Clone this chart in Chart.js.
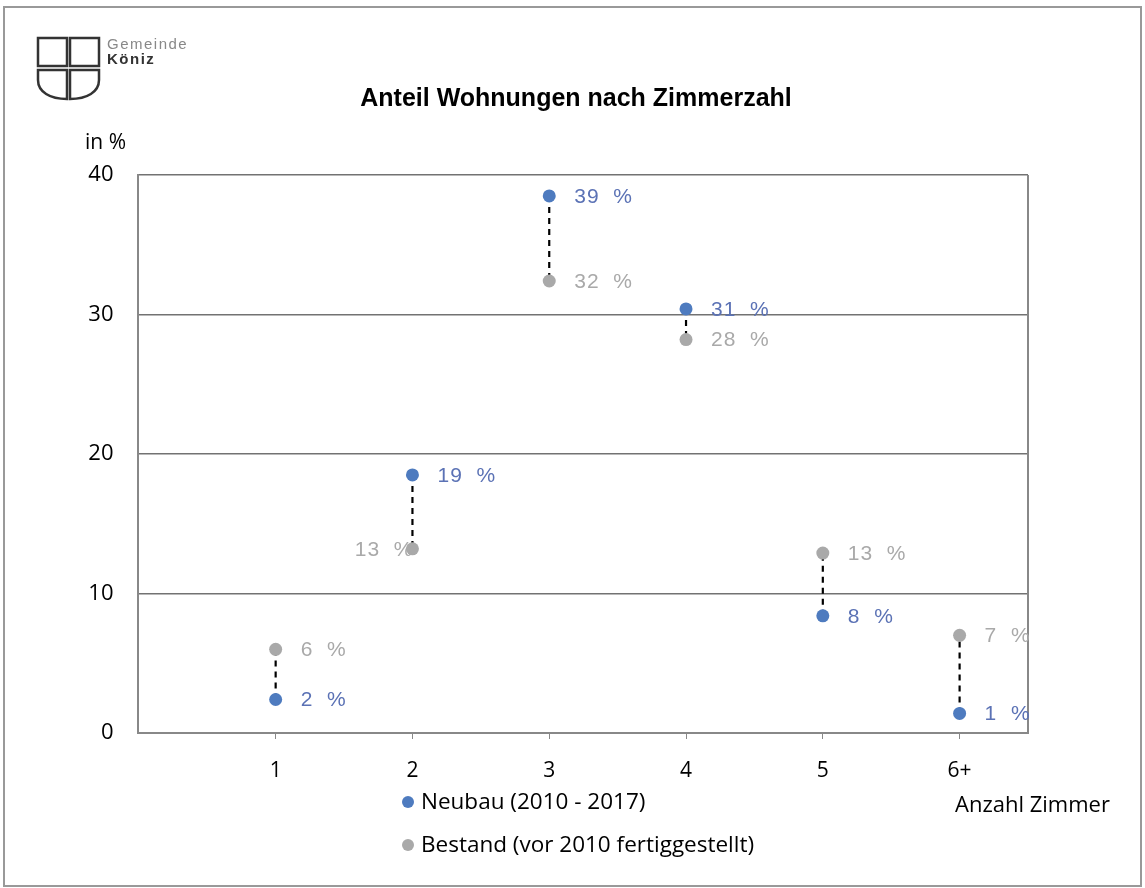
<!DOCTYPE html>
<html>
<head>
<meta charset="utf-8">
<script src="https://cdn.jsdelivr.net/npm/chart.js@4/dist/chart.umd.min.js"></script>
<style>
  html, body { margin: 0; padding: 0; background: #fff; }
  #wrap { width: 1145px; height: 888px; }
</style>
</head>
<body>
<div id="wrap"><canvas id="c" width="1145" height="888"></canvas></div>
<script>
// Daten
const zimmer = [1, 2, 3, 4, 5, 6];
const zimmerLabels = ['1', '2', '3', '4', '5', '6+'];
const yTicks = [0, 10, 20, 30, 40];
const neubau = [2.4, 18.5, 38.5, 30.4, 8.4, 1.4];
const bestand = [6.0, 13.2, 32.4, 28.2, 12.9, 7.0];
const neubauText = ['2  %', '19  %', '39  %', '31  %', '8  %', '1  %'];
const bestandText = ['6  %', '13  %', '32  %', '28  %', '13  %', '7  %'];

const BLAU = '#4e7bbf';
const GRAU = '#a9a9a9';
const FONT = '"Open Sans", sans-serif';
const ARIAL = '"Liberation Sans", Arial, sans-serif';

// gestrichelte Verbindungen Neubau -> Bestand
var verbindungen = zimmer.map(function (z, i) {
  return {
    type: 'line',
    data: [{ x: z, y: neubau[i] }, { x: z, y: bestand[i] }],
    borderColor: '#000',
    borderWidth: 2.2,
    borderDash: [6, 5],
    pointRadius: 0,
    order: 3
  };
});

var deko = {
  id: 'deko',
  beforeDraw: function (chart) {
    var ctx = chart.ctx;
    ctx.save();
    ctx.fillStyle = '#fff';
    ctx.fillRect(0, 0, chart.width, chart.height);
    // Rahmen
    ctx.strokeStyle = '#999';
    ctx.lineWidth = 2;
    ctx.strokeRect(4, 7, 1137, 879);

    // Logo
    ctx.strokeStyle = '#333';
    ctx.lineWidth = 2.5;
    ctx.strokeRect(38, 38, 29, 28);
    ctx.strokeRect(70, 38, 29, 28);
    ctx.beginPath();
    ctx.moveTo(38, 70); ctx.lineTo(67, 70); ctx.lineTo(67, 99);
    ctx.bezierCurveTo(50, 99, 38, 92, 38, 80);
    ctx.closePath();
    ctx.stroke();
    ctx.beginPath();
    ctx.moveTo(70, 70); ctx.lineTo(99, 70); ctx.lineTo(99, 80);
    ctx.bezierCurveTo(99, 92, 87, 99, 70, 99);
    ctx.closePath();
    ctx.stroke();
    ctx.textBaseline = 'middle';
    ctx.textAlign = 'left';
    ctx.letterSpacing = '1.5px';
    ctx.fillStyle = '#888';
    ctx.font = '15px ' + ARIAL;
    ctx.fillText('Gemeinde', 107, 45);
    ctx.fillStyle = '#333';
    ctx.font = 'bold 15px ' + ARIAL;
    ctx.fillText('Köniz', 107, 60);
    ctx.letterSpacing = '0px';

    // Titel
    ctx.fillStyle = '#000';
    ctx.textAlign = 'center';
    ctx.font = 'bold 25px ' + ARIAL;
    ctx.fillText('Anteil Wohnungen nach Zimmerzahl', 576, 99);

    // Achsentitel
    ctx.textAlign = 'left';
    ctx.font = '21px ' + FONT;
    ctx.fillText('in %', 85, 143);
    ctx.font = '22px ' + FONT;
    ctx.fillText('Anzahl Zimmer', 955, 806);

    // Legende
    ctx.font = '22.5px ' + FONT;
    var leg = [['Neubau (2010 - 2017)', BLAU, 802], ['Bestand (vor 2010 fertiggestellt)', GRAU, 845]];
    leg.forEach(function (l) {
      ctx.fillStyle = l[1];
      ctx.beginPath();
      ctx.arc(408, l[2], 6, 0, Math.PI * 2);
      ctx.fill();
      ctx.fillStyle = '#000';
      ctx.fillText(l[0], 421, l[2] + 1);
    });
    ctx.restore();
  },
  afterDraw: function (chart) {
    var ctx = chart.ctx;
    var a = chart.chartArea;
    ctx.save();
    // rechte Begrenzung
    ctx.strokeStyle = '#888';
    ctx.lineWidth = 2;
    ctx.beginPath();
    ctx.moveTo(a.right, a.top);
    ctx.lineTo(a.right, a.bottom);
    ctx.stroke();

    // Datenbeschriftung
    ctx.font = '21px ' + ARIAL;
    ctx.letterSpacing = '1px';
    ctx.textBaseline = 'middle';
    var serien = [[chart.getDatasetMeta(verbindungen.length + 1), bestandText, GRAU],
                  [chart.getDatasetMeta(verbindungen.length), neubauText, '#5b72b5']];
    serien.forEach(function (s) {
      s[0].data.forEach(function (pt, i) {
        ctx.fillStyle = s[2];
        if (s[1] === bestandText && i === 1) {
          ctx.textAlign = 'right';
          ctx.fillText(s[1][i], pt.x + 1, pt.y + 1);
        } else {
          ctx.textAlign = 'left';
          ctx.fillText(s[1][i], pt.x + 25, pt.y + 1);
        }
      });
    });
    ctx.restore();
  }
};

var ctx = document.getElementById('c').getContext('2d');
var chart = new Chart(ctx, {
  type: 'scatter',
  data: {
    datasets: verbindungen.concat([
      {
        label: 'Neubau (2010 - 2017)',
        data: zimmer.map(function (z, i) { return { x: z, y: neubau[i] }; }),
        backgroundColor: BLAU,
        borderWidth: 0,
        pointRadius: 6.5,
        order: 1
      },
      {
        label: 'Bestand (vor 2010 fertiggestellt)',
        data: zimmer.map(function (z, i) { return { x: z, y: bestand[i] }; }),
        backgroundColor: GRAU,
        borderWidth: 0,
        pointRadius: 6.5,
        order: 2
      }
    ])
  },
  options: {
    responsive: false,
    animation: false,
    layout: { padding: { left: 0, top: 175, right: 117, bottom: 95 } },
    plugins: {
      legend: { display: false },
      tooltip: { enabled: false }
    },
    scales: {
      x: {
        type: 'linear',
        min: -0.01,
        max: 6.5,
        afterBuildTicks: function (s) { s.ticks = zimmer.map(function (v) { return { value: v }; }); },
        afterFit: function (s) { s.height = 60; },
        ticks: {
          color: '#000',
          font: { family: FONT, size: 21 },
          padding: 19,
          maxRotation: 0,
          callback: function (v) { return zimmerLabels[zimmer.indexOf(v)]; }
        },
        grid: { drawOnChartArea: false, drawTicks: true, tickLength: 6, color: '#888' },
        border: { color: '#888', width: 2 }
      },
      y: {
        min: 0,
        max: 40,
        afterBuildTicks: function (s) { s.ticks = yTicks.map(function (v) { return { value: v }; }); },
        afterFit: function (s) { s.width = 137.5; },
        ticks: {
          color: '#000',
          font: { family: FONT, size: 22 },
          padding: 24
        },
        grid: { color: '#727272', lineWidth: 1.5, drawTicks: false },
        border: { color: '#888', width: 2 }
      }
    }
  },
  plugins: [deko]
});
</script>
</body>
</html>
